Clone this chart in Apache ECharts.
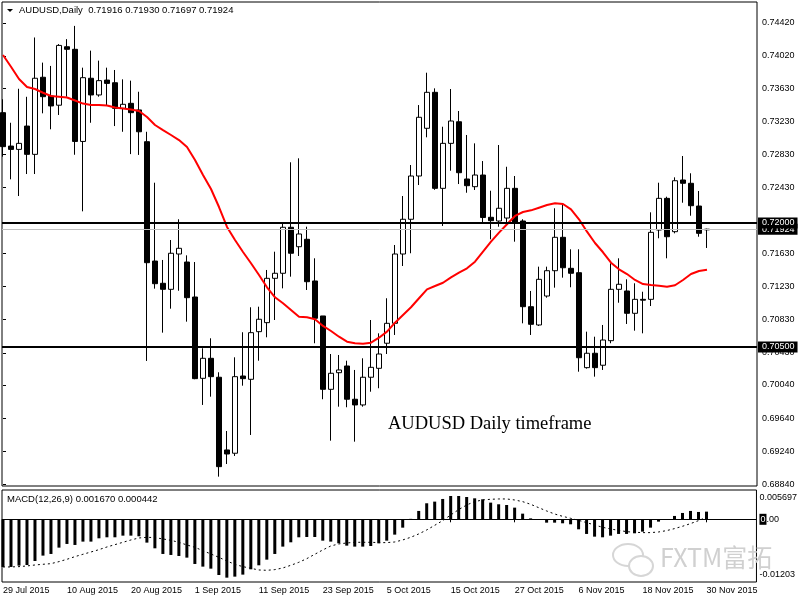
<!DOCTYPE html>
<html>
<head>
<meta charset="UTF-8">
<title>AUDUSD Daily</title>
<script src="https://cdn.jsdelivr.net/npm/echarts@6.0.0/dist/echarts.min.js"></script>
<style>
  html, body { margin: 0; padding: 0; background: #fff; }
  #chart { width: 800px; height: 600px; }
</style>
</head>
<body>
<div id="chart"></div>
<script>
// date labels and the candle each one sits on
const dateLabels = ['29 Jul 2015', '10 Aug 2015', '20 Aug 2015', '1 Sep 2015', '11 Sep 2015', '23 Sep 2015',
  '5 Oct 2015', '15 Oct 2015', '27 Oct 2015', '6 Nov 2015', '18 Nov 2015', '30 Nov 2015'];
const labelCandles = [0, 8, 16, 24, 32, 40, 48, 56, 64, 72, 80, 88];

// daily OHLC, 29 Jul - 30 Nov 2015
const opens = [0.73333, 0.72929, 0.72889, 0.73171, 0.72829, 0.73761, 0.73534, 0.73423, 0.74130, 0.74099,
  0.72985, 0.73749, 0.73547, 0.73727, 0.73695, 0.73385, 0.73446, 0.73366, 0.72982, 0.71539,
  0.71270, 0.71197, 0.71624, 0.71527, 0.71104, 0.70121, 0.70363, 0.70134, 0.69255, 0.69215,
  0.70149, 0.70109, 0.70685, 0.70794, 0.71330, 0.71391, 0.71947, 0.71712, 0.71802, 0.71298,
  0.70875, 0.69988, 0.70189, 0.70270, 0.69868, 0.69799, 0.70134, 0.70242, 0.70545, 0.70786,
  0.71624, 0.72044, 0.72567, 0.73144, 0.73579, 0.72418, 0.72962, 0.73223, 0.72531, 0.72438,
  0.72579, 0.72068, 0.72023, 0.72059, 0.72418, 0.72023, 0.70987, 0.70766, 0.71116, 0.71422,
  0.71826, 0.71451, 0.71398, 0.70250, 0.70424, 0.70279, 0.70576, 0.71197, 0.71177, 0.70907,
  0.71076, 0.71076, 0.71914, 0.72297, 0.71894, 0.72519, 0.72479, 0.72204, 0.71916];
const highs = [0.73495, 0.73211, 0.73622, 0.73525, 0.74242, 0.73938, 0.73898, 0.74162, 0.74222, 0.74382,
  0.73877, 0.74083, 0.73962, 0.73877, 0.73849, 0.73736, 0.73720, 0.73586, 0.73102, 0.72486,
  0.71552, 0.71793, 0.72044, 0.71608, 0.71527, 0.70484, 0.70605, 0.70194, 0.69484, 0.70375,
  0.70678, 0.70980, 0.70987, 0.71431, 0.71652, 0.71987, 0.72733, 0.72781, 0.71954, 0.71572,
  0.70875, 0.70415, 0.70403, 0.70334, 0.70222, 0.70363, 0.70826, 0.70665, 0.71089, 0.71733,
  0.72325, 0.72700, 0.73425, 0.73816, 0.73627, 0.73163, 0.73619, 0.73353, 0.73063, 0.72962,
  0.72748, 0.72389, 0.72942, 0.72679, 0.72567, 0.72044, 0.71177, 0.71471, 0.71471, 0.72177,
  0.72229, 0.71681, 0.71681, 0.70685, 0.70624, 0.70766, 0.71512, 0.71572, 0.71318, 0.71270,
  0.71168, 0.72128, 0.72486, 0.72317, 0.72551, 0.72809, 0.72600, 0.72386, 0.71930];
const lows = [0.72801, 0.72527, 0.72325, 0.72591, 0.72591, 0.73325, 0.73132, 0.73305, 0.73526, 0.72824,
  0.72140, 0.73211, 0.73526, 0.73422, 0.73171, 0.73102, 0.72832, 0.72822, 0.70331, 0.71205,
  0.70673, 0.70963, 0.71180, 0.70806, 0.70110, 0.69799, 0.69899, 0.68932, 0.69085, 0.69182,
  0.70032, 0.69436, 0.70334, 0.70617, 0.70826, 0.71209, 0.71350, 0.71600, 0.71189, 0.70545,
  0.69868, 0.69367, 0.69778, 0.69771, 0.69355, 0.69778, 0.69959, 0.70001, 0.70415, 0.70645,
  0.71479, 0.71633, 0.72458, 0.73035, 0.72400, 0.71963, 0.72631, 0.72470, 0.72365, 0.72398,
  0.71999, 0.71802, 0.71954, 0.72011, 0.71773, 0.70786, 0.70645, 0.70754, 0.71096, 0.71217,
  0.71338, 0.71222, 0.70201, 0.70238, 0.70141, 0.70222, 0.70545, 0.71035, 0.70778, 0.70697,
  0.70665, 0.70995, 0.71814, 0.71572, 0.71874, 0.72244, 0.72087, 0.71833, 0.71697];
const closes = [0.72922, 0.72889, 0.72962, 0.72829, 0.73749, 0.73526, 0.73414, 0.74146, 0.74099, 0.72985,
  0.73756, 0.73547, 0.73720, 0.73687, 0.73385, 0.73434, 0.73333, 0.73102, 0.71519, 0.71265,
  0.71197, 0.71633, 0.71693, 0.71096, 0.70117, 0.70363, 0.70141, 0.69053, 0.69206, 0.70141,
  0.70117, 0.70673, 0.70835, 0.71330, 0.71391, 0.71947, 0.71633, 0.71866, 0.71289, 0.70847,
  0.69988, 0.70182, 0.70222, 0.69868, 0.69799, 0.70134, 0.70254, 0.70415, 0.70786, 0.71624,
  0.72044, 0.72567, 0.73277, 0.73579, 0.72418, 0.72962, 0.73232, 0.72607, 0.72450, 0.72579,
  0.72065, 0.72027, 0.72177, 0.72418, 0.71995, 0.70987, 0.70774, 0.71318, 0.71422, 0.71826,
  0.71458, 0.71391, 0.70370, 0.70424, 0.70250, 0.70584, 0.71197, 0.71258, 0.70907, 0.71076,
  0.71066, 0.71886, 0.72297, 0.71833, 0.72510, 0.72479, 0.72208, 0.71874, 0.71924];

// red moving average
const maLine = [0.74030, 0.73888, 0.73740, 0.73643, 0.73619, 0.73574, 0.73534, 0.73526, 0.73516, 0.73480,
  0.73443, 0.73425, 0.73425, 0.73419, 0.73395, 0.73383, 0.73371, 0.73353, 0.73280, 0.73184,
  0.73123, 0.73063, 0.73002, 0.72918, 0.72760, 0.72579, 0.72410, 0.72192, 0.71951, 0.71793,
  0.71648, 0.71512, 0.71370, 0.71222, 0.71101, 0.71028, 0.70947, 0.70866, 0.70859, 0.70835,
  0.70754, 0.70693, 0.70624, 0.70564, 0.70545, 0.70540, 0.70552, 0.70612, 0.70685, 0.70794,
  0.70887, 0.70980, 0.71089, 0.71197, 0.71237, 0.71277, 0.71342, 0.71398, 0.71451, 0.71531,
  0.71652, 0.71773, 0.71882, 0.71983, 0.72084, 0.72132, 0.72152, 0.72184, 0.72216, 0.72237,
  0.72229, 0.72164, 0.72044, 0.71894, 0.71757, 0.71645, 0.71519, 0.71439, 0.71382, 0.71310,
  0.71261, 0.71249, 0.71241, 0.71229, 0.71246, 0.71310, 0.71382, 0.71419, 0.71434];

// MACD(12,26,9): histogram and dotted signal
const macdHist = [-0.01038, -0.01038, -0.01009, -0.00995, -0.00908, -0.00791, -0.00755, -0.00617, -0.00537, -0.00559,
  -0.00486, -0.00486, -0.00414, -0.00392, -0.00392, -0.00356, -0.00356, -0.00370, -0.00508, -0.00632,
  -0.00755, -0.00777, -0.00799, -0.00835, -0.00973, -0.01031, -0.01075, -0.01213, -0.01271, -0.01249,
  -0.01205, -0.01089, -0.01002, -0.00879, -0.00755, -0.00595, -0.00501, -0.00392, -0.00385, -0.00385,
  -0.00465, -0.00486, -0.00523, -0.00574, -0.00595, -0.00595, -0.00581, -0.00523, -0.00465, -0.00334,
  -0.00182, 0.00010, 0.00182, 0.00349, 0.00385, 0.00443, 0.00508, 0.00508, 0.00486, 0.00457,
  0.00436, 0.00363, 0.00327, 0.00312, 0.00254, 0.00123, 0.00020, -0.00010, -0.00073, -0.00073,
  -0.00087, -0.00109, -0.00218, -0.00319, -0.00378, -0.00392, -0.00356, -0.00319, -0.00319, -0.00305,
  -0.00269, -0.00182, -0.00051, -0.00010, 0.00073, 0.00138, 0.00182, 0.00160, 0.00167];
const macdSignal = [-0.01038, -0.01038, -0.01031, -0.01016, -0.00995, -0.00980, -0.00966, -0.00922, -0.00871, -0.00813,
  -0.00762, -0.00712, -0.00661, -0.00603, -0.00552, -0.00501, -0.00450, -0.00407, -0.00392, -0.00399,
  -0.00428, -0.00457, -0.00501, -0.00559, -0.00610, -0.00683, -0.00755, -0.00828, -0.00908, -0.00980,
  -0.01031, -0.01067, -0.01104, -0.01111, -0.01096, -0.01060, -0.01002, -0.00937, -0.00857, -0.00762,
  -0.00668, -0.00581, -0.00537, -0.00516, -0.00501, -0.00501, -0.00501, -0.00508, -0.00508, -0.00494,
  -0.00450, -0.00392, -0.00319, -0.00232, -0.00131, -0.00029, 0.00094, 0.00211, 0.00312, 0.00385,
  0.00421, 0.00436, 0.00443, 0.00443, 0.00421, 0.00385, 0.00327, 0.00254, 0.00182, 0.00116,
  0.00065, 0.00022, -0.00022, -0.00073, -0.00123, -0.00174, -0.00211, -0.00240, -0.00269, -0.00283,
  -0.00290, -0.00290, -0.00276, -0.00247, -0.00203, -0.00152, -0.00094, -0.00029, 0.00044];

// price scale labels and horizontal levels
const priceTicks = [0.68840, 0.69240, 0.69640, 0.70040, 0.70430, 0.70830, 0.71230, 0.71630,
  0.72430, 0.72830, 0.73230, 0.73630, 0.74020, 0.74420];
const levels = [0.72000, 0.70500];
const bidPrice = 0.71924;
const macdTicks = [0.005697, 0, -0.01203];
const macdTickText = ['0.005697', '0.00', '-0.01203'];

const FONT = 'Liberation Sans';
const candleData = opens.map((o, i) => [i, o, closes[i], lows[i], highs[i]]);

const levelLabel = {
  show: true, position: 'end', distance: 1,
  formatter: p => Number(p.value).toFixed(5),
  backgroundColor: '#000', color: '#fff', fontFamily: FONT, fontSize: 9,
  padding: [1, 3, 1, 4]
};

const chart = echarts.init(document.getElementById('chart'));
chart.setOption({
  animation: false,
  backgroundColor: '#fff',
  textStyle: { fontFamily: FONT },
  grid: [
    { left: 2, top: 2, width: 755, height: 484, show: true, borderColor: '#000', borderWidth: 1 },
    { left: 2, top: 490, width: 755, height: 92, show: true, borderColor: '#000', borderWidth: 1 }
  ],
  xAxis: [
    {
      type: 'value', gridIndex: 0, min: -0.125, max: 94.25,
      axisLine: { show: false }, axisTick: { show: false }, axisLabel: { show: false }, splitLine: { show: false }
    },
    {
      type: 'value', gridIndex: 1, min: -0.125, max: 94.25,
      axisLine: { show: false },
      axisTick: { show: true, customValues: labelCandles, length: 3, lineStyle: { color: '#000' } },
      axisLabel: {
        customValues: labelCandles, hideOverlap: false,
        formatter: v => dateLabels[labelCandles.indexOf(Math.round(v))],
        align: 'left', margin: 4, fontSize: 9, color: '#000'
      },
      splitLine: { show: false }
    }
  ],
  yAxis: [
    {
      type: 'value', gridIndex: 0, position: 'right', min: 0.68819, max: 0.74671,
      axisLine: { show: false },
      axisTick: { show: true, customValues: priceTicks, length: 3, lineStyle: { color: '#000' } },
      axisLabel: {
        customValues: priceTicks, hideOverlap: false,
        formatter: v => v.toFixed(5), margin: 5, fontSize: 9, color: '#000'
      },
      splitLine: { show: false }
    },
    {
      type: 'value', gridIndex: 1, position: 'right', min: -0.013657, max: 0.006382,
      axisLine: { show: false },
      axisTick: { show: false },
      axisLabel: {
        customValues: macdTicks, hideOverlap: false, margin: 3, fontSize: 9, color: '#000',
        formatter: v => {
          let k = 0;
          macdTicks.forEach((t, j) => { if (Math.abs(t - v) < Math.abs(macdTicks[k] - v)) k = j; });
          if (k === 0) return '{top|' + macdTickText[k] + '}';
          if (k === 1) return '{box|0}{n|.00}';
          return macdTickText[k];
        },
        rich: {
          top: { padding: [9, 0, 0, 0], fontSize: 9, fontFamily: FONT, color: '#000' },
          box: { backgroundColor: '#000', color: '#fff', fontSize: 9, fontFamily: FONT, padding: [1, 1, 1, 1] },
          n: { fontSize: 9, fontFamily: FONT, color: '#000' }
        }
      },
      splitLine: { show: false }
    }
  ],
  series: [
    {
      type: 'candlestick', xAxisIndex: 0, yAxisIndex: 0,
      dimensions: ['i', 'open', 'close', 'low', 'high'],
      encode: { x: 'i', y: ['open', 'close', 'low', 'high'] },
      data: candleData,
      barWidth: 5,
      clip: true,
      silent: true,
      itemStyle: { color: '#fff', color0: '#000', borderColor: '#000', borderColor0: '#000', borderWidth: 1 },
      markLine: {
        symbol: 'none', silent: true, animation: false, precision: 5,
        data: [
          { yAxis: bidPrice, lineStyle: { color: '#c0c0c0', width: 1, type: 'solid' }, label: levelLabel },
          { yAxis: levels[0], lineStyle: { color: '#000', width: 2, type: 'solid' }, label: levelLabel },
          { yAxis: levels[1], lineStyle: { color: '#000', width: 2, type: 'solid' }, label: levelLabel }
        ]
      },
      z: 3
    },
    {
      type: 'line', xAxisIndex: 0, yAxisIndex: 0,
      data: maLine.map((v, i) => [i, v]),
      symbol: 'none', silent: true,
      lineStyle: { color: '#ff0000', width: 2 },
      z: 4
    },
    {
      type: 'bar', xAxisIndex: 1, yAxisIndex: 1,
      data: macdHist.map((v, i) => [i, v]),
      barWidth: 3, silent: true,
      itemStyle: { color: '#000' },
      markLine: {
        symbol: 'none', silent: true, animation: false, label: { show: false },
        data: [{ yAxis: 0 }],
        lineStyle: { color: '#000', width: 1, type: 'solid' }
      }
    },
    {
      type: 'line', xAxisIndex: 1, yAxisIndex: 1,
      data: macdSignal.map((v, i) => [i, v]),
      symbol: 'none', silent: true,
      lineStyle: { color: '#000', width: 1, type: [2, 3] }
    }
  ],
  graphic: [
    { type: 'polygon', shape: { points: [[7, 9], [13, 9], [10, 12]] }, style: { fill: '#000' } },
    {
      type: 'text', left: 19, top: 5,
      style: { text: 'AUDUSD,Daily  0.71916 0.71930 0.71697 0.71924', font: '9.5px "Liberation Sans"', fill: '#000' }
    },
    {
      type: 'text', left: 7, top: 494,
      style: { text: 'MACD(12,26,9) 0.001670 0.000442', font: '9.5px "Liberation Sans"', fill: '#000' }
    },
    {
      type: 'text', x: 388, y: 433.5,
      style: { text: 'AUDUSD Daily timeframe', font: '18.5px "Liberation Serif"', fill: '#000', textVerticalAlign: 'bottom' }
    },
    // watermark
    {
      type: 'ellipse', shape: { cx: 628, cy: 555, rx: 15, ry: 11 },
      style: { fill: 'none', stroke: '#d6d6d6', lineWidth: 2 }, z: 10
    },
    {
      type: 'ellipse', shape: { cx: 641, cy: 566, rx: 12, ry: 10 },
      style: { fill: '#fff', stroke: '#d6d6d6', lineWidth: 2 }, z: 11
    },
    {
      type: 'text', x: 660, y: 557,
      style: { text: 'FXTM富拓', font: '25px "Noto Sans CJK SC"', fill: '#d0d0d0', textVerticalAlign: 'middle' }, z: 10
    }
  ]
});
</script>
</body>
</html>
